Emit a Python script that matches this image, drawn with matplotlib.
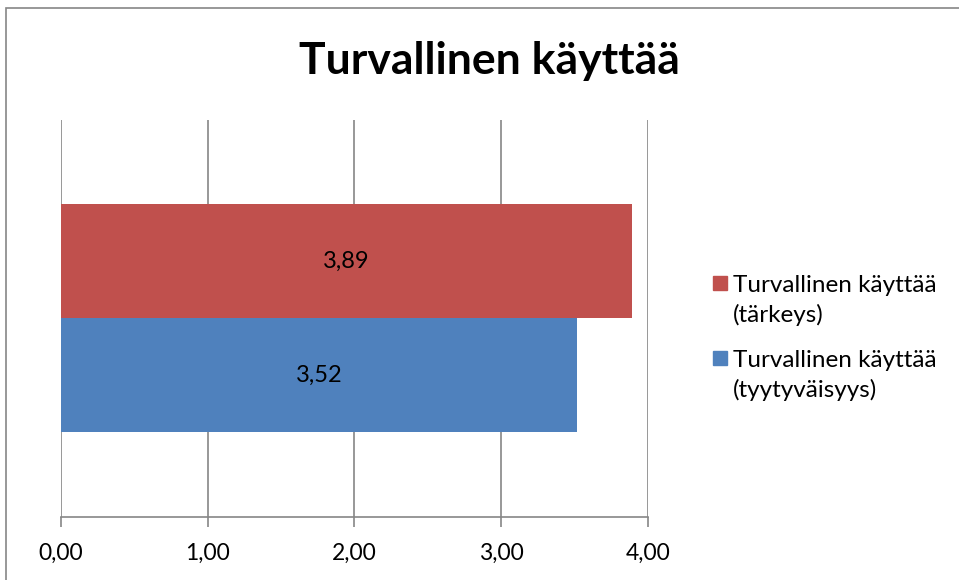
import matplotlib.pyplot as plt
from matplotlib.patches import Rectangle

# data
title = "Turvallinen käyttää"
series_labels = ["Turvallinen käyttää\n(tärkeys)", "Turvallinen käyttää\n(tyytyväisyys)"]
series_values = [3.89, 3.52]
series_colors = ["#C0504D", "#4F81BD"]
x_ticks = [0, 1, 2, 3, 4]

plt.rcParams["font.family"] = ["Lato", "DejaVu Sans"]

fig = plt.figure(figsize=(9.59, 5.80), dpi=100)
ax = fig.add_axes([0.0636, 0.1086, 0.612, 0.685])

bar_h = 0.287
offsets = [bar_h / 2, -bar_h / 2]
for val, col, off in zip(series_values, series_colors, offsets):
    ax.barh(off, val, height=bar_h, color=col, zorder=3)
    ax.text(val / 2, off, f"{val:.2f}".replace(".", ","), ha="center", va="center",
            fontsize=17, color="black", zorder=4)

ax.set_xlim(0, 4)
ax.set_ylim(-0.5, 0.5)
ax.set_xticks(x_ticks)
ax.set_xticklabels([f"{t:.2f}".replace(".", ",") for t in x_ticks], fontsize=16.5)
ax.set_yticks([])
ax.grid(axis="x", color="#868686", linewidth=1.2, zorder=0)
for s in ["top", "right", "left"]:
    ax.spines[s].set_visible(False)
ax.spines["bottom"].set_color("#868686")
ax.spines["bottom"].set_linewidth(1.2)
ax.tick_params(axis="x", direction="out", length=7.5, width=1.2, color="#868686", pad=11)

fig.text(0.51, 0.894, title, ha="center", va="center", fontsize=32, fontweight="bold")

# legend: square aligned with the first line of each label
leg_y = [1 - 283 / 580, 1 - 358 / 580]
for lab, col, y in zip(series_labels, series_colors, leg_y):
    fig.add_artist(Rectangle((713 / 959, y - 7 / 580), 14 / 959, 14 / 580,
                             transform=fig.transFigure, color=col))
    fig.text(733 / 959, y + 8 / 580, lab, ha="left", va="top", fontsize=17.5,
             linespacing=1.45)

# outer chart frame (cropped on right and bottom)
fig.add_artist(Rectangle((6 / 959, -0.1), 1.2, 1 - 8 / 580 + 0.1, transform=fig.transFigure,
                         fill=False, edgecolor="#868686", linewidth=1.2))

fig.savefig("out.png", dpi=100)
